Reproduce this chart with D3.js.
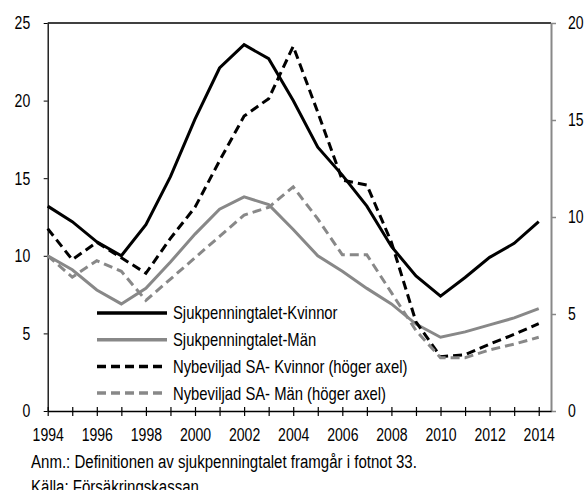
<!DOCTYPE html>
<html>
<head>
<meta charset="utf-8">
<script src="https://cdn.jsdelivr.net/npm/d3@7"></script>
<style>
  body { margin: 0; background: #fff; }
  svg text { font-family: "Liberation Sans", Arial, sans-serif; fill: #000; }
</style>
</head>
<body>
<div id="chart"></div>
<script>
(function() {
  const years = [1994, 1995, 1996, 1997, 1998, 1999, 2000, 2001, 2002, 2003, 2004,
                 2005, 2006, 2007, 2008, 2009, 2010, 2011, 2012, 2013, 2014];

  // left axis
  const sjukKvinnor = [13.2, 12.2, 10.9, 10.0, 12.0, 15.1, 18.8, 22.1, 23.6, 22.7, 20.0,
                       17.0, 15.2, 13.2, 10.6, 8.7, 7.4, 8.6, 9.9, 10.8, 12.2];
  const sjukMan = [10.0, 9.1, 7.8, 6.9, 7.9, 9.6, 11.4, 13.0, 13.8, 13.3, 11.7,
                   10.0, 9.0, 7.9, 6.9, 5.6, 4.75, 5.1, 5.55, 6.0, 6.6];
  // right axis
  const saKvinnor = [9.4, 7.8, 8.7, 7.9, 7.1, 8.9, 10.5, 12.9, 15.2, 16.1, 18.8,
                     15.4, 11.9, 11.65, 8.7, 4.6, 2.8, 2.9, 3.45, 3.95, 4.5];
  const saMan = [8.0, 6.9, 7.75, 7.2, 5.7, 6.8, 7.9, 9.0, 10.1, 10.5, 11.55,
                 9.9, 8.05, 8.05, 6.1, 4.15, 2.75, 2.75, 3.15, 3.45, 3.8];

  const leftTicks = [0, 5, 10, 15, 20, 25];
  const rightTicks = [0, 5, 10, 15, 20];
  const labels = ["Sjukpenningtalet-Kvinnor", "Sjukpenningtalet-Män",
                  "Nybeviljad SA- Kvinnor (höger axel)", "Nybeviljad SA- Män (höger axel)"];
  const notes = ["Anm.: Definitionen av sjukpenningtalet framgår i fotnot 33.",
                 "Källa: Försäkringskassan."];

  const W = 585, H = 490;
  const gray = "#888888";
  const left = 47.7, right = 551, top = 23, bottom = 411;
  const sx = 0.76;   // squeeze text to look like a condensed face
  const fs = "18.5px";

  const svg = d3.select("#chart")
    .append("svg")
      .attr("width", W)
      .attr("height", H);

  const x = d3.scaleLinear().domain([1994, 2014.5]).range([left, right]);
  const yL = d3.scaleLinear().domain([0, 25]).range([bottom, top]);
  const yR = d3.scaleLinear().domain([0, 20]).range([bottom, top]);

  // top frame line
  svg.append("line")
    .attr("x1", left).attr("x2", right)
    .attr("y1", top).attr("y2", top)
    .attr("stroke", "#000").attr("stroke-width", 1.3);

  // left axis
  const gL = svg.append("g")
    .attr("transform", `translate(${left},0)`)
    .call(d3.axisLeft(yL).tickValues(leftTicks).tickSize(4).tickSizeOuter(0));
  gL.select(".domain").attr("stroke", "#000").attr("stroke-width", 1.3);
  gL.selectAll("text")
    .attr("x", -17.5 / sx)
    .attr("transform", `scale(${sx},1)`)
    .style("font-size", fs);

  // right axis
  const gR = svg.append("g")
    .attr("transform", `translate(${right},0)`)
    .call(d3.axisRight(yR).tickValues(rightTicks).tickSize(5).tickSizeOuter(0));
  gR.select(".domain").attr("stroke", gray).attr("stroke-width", 2);
  gR.selectAll(".tick line").attr("stroke", gray).attr("stroke-width", 1.5);
  gR.selectAll("text")
    .attr("x", 17 / sx)
    .attr("transform", `scale(${sx},1)`)
    .style("font-size", fs);

  // bottom axis
  const gB = svg.append("g")
    .attr("transform", `translate(0,${bottom})`)
    .call(d3.axisBottom(x).tickValues(years).tickSizeOuter(0)
      .tickFormat(d => d % 2 === 0 ? d : ""));
  gB.select(".domain").attr("stroke", "#000").attr("stroke-width", 1.3);
  gB.selectAll(".tick line").attr("y1", -4).attr("y2", 5).attr("stroke-width", 1.2);
  gB.selectAll("text")
    .attr("y", 17)
    .attr("transform", `scale(${sx},1)`)
    .style("font-size", fs);

  const series = [
    { values: sjukKvinnor, scale: yL, color: "#000", dash: null },
    { values: sjukMan, scale: yL, color: gray, dash: null },
    { values: saKvinnor, scale: yR, color: "#000", dash: "9,5" },
    { values: saMan, scale: yR, color: gray, dash: "9,5" }
  ];

  series.forEach(s => {
    const line = d3.line()
      .x((d, i) => x(years[i]))
      .y(d => s.scale(d));
    svg.append("path")
      .datum(s.values)
      .attr("fill", "none")
      .attr("stroke", s.color)
      .attr("stroke-width", 3)
      .attr("stroke-dasharray", s.dash)
      .attr("d", line);
  });

  // legend
  const legend = svg.append("g").attr("transform", "translate(97,313)");
  series.forEach((s, i) => {
    const row = legend.append("g").attr("transform", `translate(0,${i * 26.7})`);
    row.append("line")
      .attr("x1", 0).attr("x2", 70)
      .attr("stroke", s.color)
      .attr("stroke-width", 3.5)
      .attr("stroke-dasharray", s.dash);
    row.append("text")
      .attr("transform", `translate(76,0) scale(0.8,1)`)
      .attr("dy", "0.35em")
      .style("font-size", fs)
      .text(labels[i]);
  });

  svg.selectAll(".note")
    .data(notes)
    .enter().append("text")
      .attr("class", "note")
      .attr("transform", (d, i) => `translate(31,${468 + i * 25}) scale(0.835,1)`)
      .style("font-size", "18px")
      .text(d => d);
})();
</script>
</body>
</html>
